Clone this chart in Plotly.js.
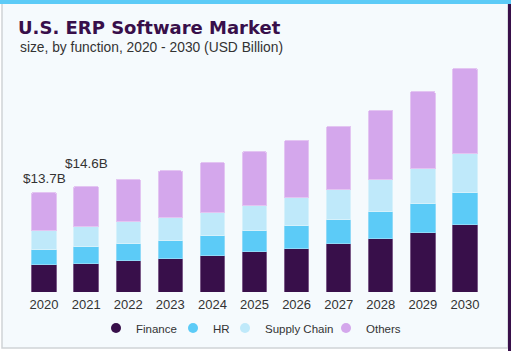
<!DOCTYPE html>
<html>
<head>
<meta charset="utf-8">
<script src="https://cdn.plot.ly/plotly-3.0.1.min.js"></script>
<style>html,body{margin:0;padding:0;background:#fff;}#chart{width:511px;height:351px;}</style>
</head>
<body>
<div id="chart"></div>
<script>
var years = ['2020','2021','2022','2023','2024','2025','2026','2027','2028','2029','2030'];
var finance = [3.76, 3.94, 4.31, 4.68, 5.04, 5.55, 6.00, 6.65, 7.34, 8.21, 9.27];
var hr = [2.06, 2.34, 2.38, 2.48, 2.71, 2.89, 3.13, 3.31, 3.72, 3.95, 4.41];
var supplyChain = [2.66, 2.71, 2.99, 3.17, 3.26, 3.54, 3.86, 4.13, 4.41, 4.92, 5.37];
var others = [5.23, 5.61, 5.88, 6.34, 6.83, 7.34, 7.89, 8.72, 9.55, 10.61, 11.80];
var labelYears = ['2020', '2021'];
var labelTexts = ['$13.7B', '$14.6B'];

var FONT = 'Liberation Sans, Arial, sans-serif';
var seriesNames = ['Finance', 'HR', 'Supply Chain', 'Others'];
var seriesData = [finance, hr, supplyChain, others];
var colors = ['#380f4a', '#5ccbf7', '#bfe9fa', '#d4a7ec'];
var borders = ['#7a5a88', '#8fdaf8', '#d6f1fb', '#e3c5f2'];
var legendIds = ['legend', 'legend2', 'legend3', 'legend4'];
var legendLeft = [96, 173, 225, 326];

function px(x) { return (x - 23) / 463; }
function py(y) { return (292 - y) / 232; }

var traces = [];
seriesData.forEach(function (vals, i) {
  traces.push({
    type: 'bar', x: years, y: vals, name: seriesNames[i], showlegend: false,
    marker: {color: colors[i], line: {color: borders[i], width: 1}},
    hoverinfo: 'x+y+name'
  });
});
seriesData.forEach(function (vals, i) {
  traces.push({
    type: 'scatter', mode: 'markers', x: [years[0]], y: [null], name: seriesNames[i],
    legend: legendIds[i],
    marker: {color: colors[i], size: 10, symbol: 'circle'}, showlegend: true
  });
});

var totals = years.map(function (y, i) { return finance[i] + hr[i] + supplyChain[i] + others[i]; });
var shifts = [4, 13];
var annotations = labelYears.map(function (yr, k) {
  var idx = years.indexOf(yr);
  return {x: idx, y: totals[idx], xref: 'x', yref: 'y', text: labelTexts[k], showarrow: false,
    yanchor: 'bottom', yshift: shifts[k], font: {family: FONT, size: 13.5, color: '#333'}};
});
annotations.push({
  xref: 'paper', yref: 'paper', x: px(18), y: py(47.5), xanchor: 'left', yanchor: 'middle',
  text: 'size, by function, 2020 - 2030 (USD Billion)', showarrow: false,
  font: {family: FONT, size: 13.8, color: '#333'}
});

var layout = {
  width: 511, height: 351,
  margin: {l: 23, r: 25, t: 60, b: 59},
  paper_bgcolor: '#ffffff', plot_bgcolor: 'rgba(0,0,0,0)',
  barmode: 'stack', bargap: 0.42,
  barcornerradius: 2,
  title: {text: '<b>U.S. ERP Software Market</b>', xref: 'container', yref: 'container', x: 18 / 511, xanchor: 'left',
    y: 1 - 27.5 / 351, yanchor: 'middle', font: {family: 'DejaVu Sans, sans-serif', size: 18, color: '#380f4a'}},
  xaxis: {type: 'category', categoryarray: years, categoryorder: 'array', range: [-0.5, 10.5],
    showgrid: false, zeroline: false, showline: false, ticks: '', ticklabelstandoff: 3, automargin: false,
    tickfont: {family: FONT, size: 13, color: '#333'}, fixedrange: true},
  yaxis: {range: [0, 31.96], visible: false, fixedrange: true, automargin: false},
  showlegend: true,
  annotations: annotations,
  shapes: [
    {type: 'rect', xref: 'paper', yref: 'paper', x0: px(2), x1: px(508), y0: py(348), y1: py(0), layer: 'below',
      fillcolor: '#f5fafd', line: {color: '#cfd3d6', width: 1.5}},
    {type: 'rect', xref: 'paper', yref: 'paper', x0: px(0), x1: px(511), y0: py(4), y1: py(-1), layer: 'below',
      fillcolor: '#5ccbf7', line: {width: 0}},
    {type: 'rect', xref: 'paper', yref: 'paper', x0: px(508), x1: px(512), y0: py(352), y1: py(4), layer: 'below',
      fillcolor: '#380f4a', line: {width: 0}}
  ]
};
legendIds.forEach(function (id, i) {
  layout[id] = {orientation: 'h', xref: 'container', yref: 'container',
    x: legendLeft[i] / 511, xanchor: 'left', y: 1 - 328 / 351, yanchor: 'middle',
    font: {family: FONT, size: 11.5, color: '#333'}, bgcolor: 'rgba(0,0,0,0)', borderwidth: 0};
});

Plotly.newPlot('chart', traces, layout, {displayModeBar: false, staticPlot: true});
</script>
</body>
</html>
